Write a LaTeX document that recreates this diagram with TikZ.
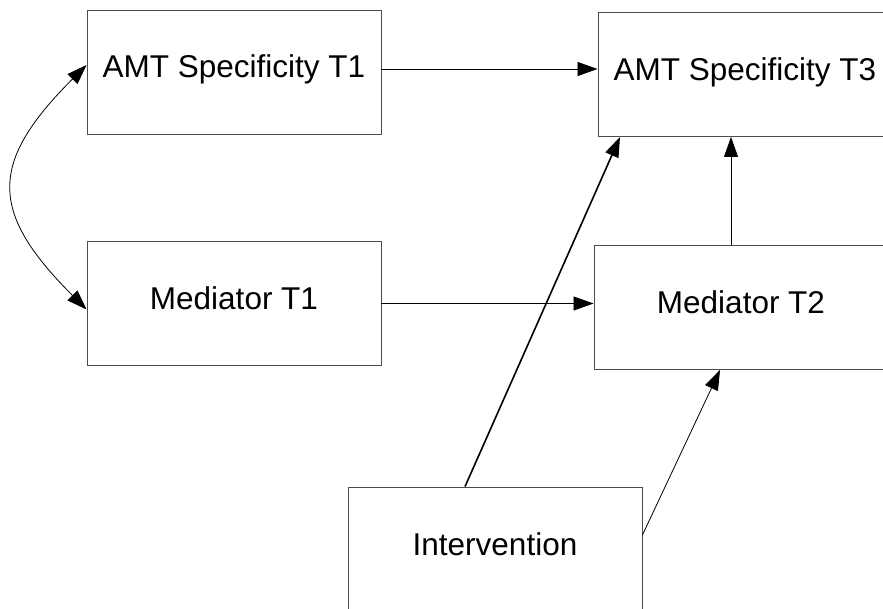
\documentclass[tikz,border=0pt]{standalone}
\usepackage{fontspec}
\setmainfont{Liberation Sans}
\usetikzlibrary{arrows.meta}

\begin{document}
\begin{tikzpicture}[node distance=231pt]
    % Style definition for the model boxes
    \tikzset{box/.style={rectangle, minimum width=294pt, minimum height=124pt,
             text centered, text height=24pt, text depth=12pt, draw=black!70, line width=0.9pt,
             font=\fontsize{31.5}{37}\selectfont}}
    \tikzstyle{arrow} = [draw=black, line width=0.8pt, -{Triangle[length=20pt,width=14pt]}]
    \useasboundingbox (0,0) rectangle (883pt,608pt);

    % Time 1 boxes
    \node (amtT1) [box] at (234pt,536pt) {AMT Specificity T1};
    \node (medT1) [box, below of=amtT1, yshift=-0.5pt] {Mediator T1};

    % Later boxes
    \node (amtT3) [box, right of=amtT1, xshift=280pt, yshift=-2.5pt] {AMT Specificity T3};
    \node (medT2) [box, right of=medT1, xshift=276pt, yshift=-4pt] {Mediator T2};
    \node (interv) [box, below of=medT2, xshift=-246pt, yshift=-10.5pt] {Intervention};

    % Paths
    \draw [arrow] ([yshift=3pt]amtT1.east) -- ([yshift=3pt]amtT1.east -| amtT3.west);
    \draw [arrow] (medT1.east) -- (medT1.east -| medT2.west);
    \draw [arrow] ([xshift=-10pt]medT2.north) -- ([xshift=-10pt]medT2.north |- amtT3.south);
    \draw [arrow, line width=1.6pt] ([xshift=-30pt]interv.north) -- ([xshift=-125pt]amtT3.south);
    \draw [arrow] ([yshift=14pt]interv.east) -- ([xshift=-21pt]medT2.south);

    % Correlation at T1
    \draw [arrow, {Triangle[length=20pt,width=14pt]}-{Triangle[length=20pt,width=14pt]}]
        ([yshift=7pt]amtT1.west) to[out=225, in=135, looseness=1.45] ([yshift=-6pt]medT1.west);
\end{tikzpicture}
\end{document}
